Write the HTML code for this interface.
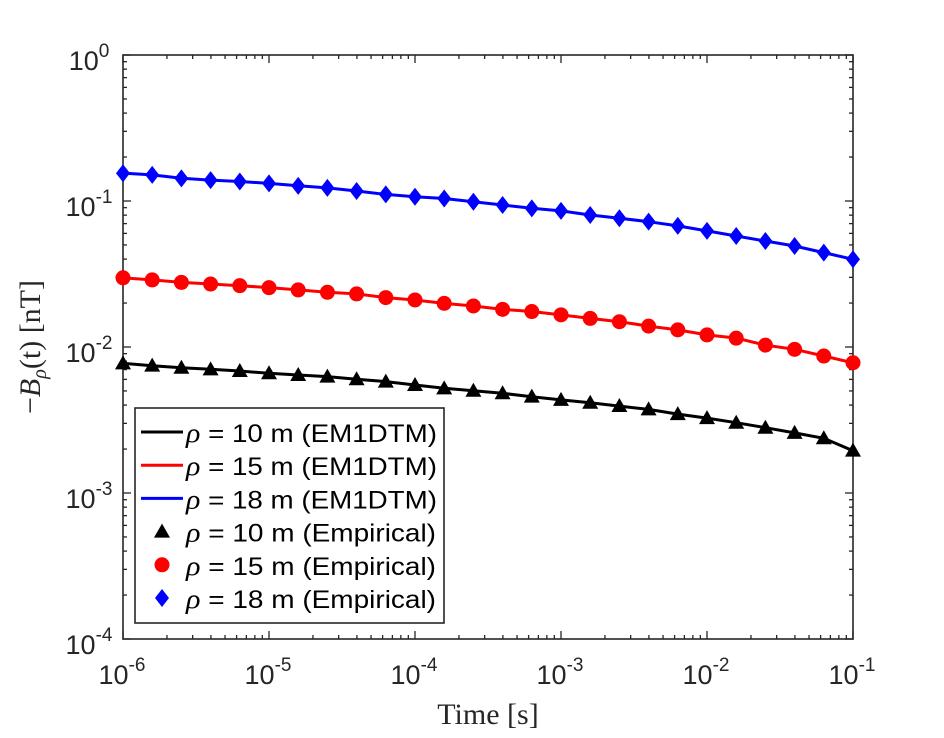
<!DOCTYPE html>
<html><head><meta charset="utf-8"><style>
html,body{margin:0;padding:0;background:#fff;}
svg{display:block;font-family:"Liberation Sans",sans-serif;}
</style></head><body>
<svg id="chart" width="944" height="738" xmlns="http://www.w3.org/2000/svg"></svg>
<script>
const timeExponents = [-6,-5.8,-5.6,-5.4,-5.2,-5,-4.8,-4.6,-4.4,-4.2,-4,-3.8,-3.6,-3.4,-3.2,-3,-2.8,-2.6,-2.4,-2.2,-2,-1.8,-1.6,-1.4,-1.2,-1];
const rho18 = [0.155,0.151,0.143,0.139,0.136,0.132,0.127,0.123,0.117,0.111,0.107,0.104,0.0989,0.0939,0.0891,0.0855,0.0802,0.0762,0.0722,0.0675,0.0624,0.0576,0.0532,0.0492,0.0443,0.0399];
const rho15 = [0.0298,0.0288,0.0277,0.0270,0.0263,0.0255,0.0246,0.0237,0.0231,0.0218,0.0210,0.0199,0.0191,0.0181,0.0175,0.0166,0.0157,0.0149,0.0139,0.0131,0.0121,0.0115,0.0103,0.00964,0.00867,0.00780];
const rho10 = [0.00773,0.00745,0.00721,0.00703,0.00685,0.00661,0.00643,0.00627,0.00601,0.00579,0.00549,0.00521,0.00502,0.00482,0.00457,0.00434,0.00415,0.00394,0.00374,0.00347,0.00326,0.00303,0.00280,0.00258,0.00237,0.00195];
const xTickExps = [-6,-5,-4,-3,-2,-1];
const yTickExps = [0,-1,-2,-3,-4];
const legendLabels = ["= 10 m (EM1DTM)","= 15 m (EM1DTM)","= 18 m (EM1DTM)","= 10 m (Empirical)","= 15 m (Empirical)","= 18 m (Empirical)"];

const NS="http://www.w3.org/2000/svg";
const svg=document.getElementById('chart');
const L=123,R=853,T=55,B=639;
const xMin=-6,xMax=-1,yMin=-4,yMax=0;
function xs(logt){return L+(logt-xMin)/(xMax-xMin)*(R-L);}
function ys(v){return B-(Math.log10(v)-yMin)/(yMax-yMin)*(B-T);}
function mk(tag,attrs,parent){const e=document.createElementNS(NS,tag);for(const k in attrs)e.setAttribute(k,attrs[k]);(parent||svg).appendChild(e);return e;}

const axes=mk('g',{});


for(let d=xMin;d<=xMax;d++){
  const x=xs(d);
  mk('line',{x1:x,y1:B,x2:x,y2:B-8,stroke:'#262626','stroke-width':1.3},axes);
  mk('line',{x1:x,y1:T,x2:x,y2:T+8,stroke:'#262626','stroke-width':1.3},axes);
  if(d<xMax)for(let m=2;m<=9;m++){const xm=xs(d+Math.log10(m));
    mk('line',{x1:xm,y1:B,x2:xm,y2:B-4,stroke:'#262626','stroke-width':1.3},axes);
    mk('line',{x1:xm,y1:T,x2:xm,y2:T+4,stroke:'#262626','stroke-width':1.3},axes);}
}
for(let d=yMin;d<=yMax;d++){
  const y=ys(Math.pow(10,d));
  mk('line',{x1:L,y1:y,x2:L+8,y2:y,stroke:'#262626','stroke-width':1.3},axes);
  mk('line',{x1:R,y1:y,x2:R-8,y2:y,stroke:'#262626','stroke-width':1.3},axes);
  if(d<yMax)for(let m=2;m<=9;m++){const ym=ys(m*Math.pow(10,d));
    mk('line',{x1:L,y1:ym,x2:L+4,y2:ym,stroke:'#262626','stroke-width':1.3},axes);
    mk('line',{x1:R,y1:ym,x2:R-4,y2:ym,stroke:'#262626','stroke-width':1.3},axes);}
}
const frame=mk('rect',{x:L,y:T,width:R-L,height:B-T,fill:'none',stroke:'#262626','stroke-width':1.6},axes);


xTickExps.forEach(e=>{
  const t=mk('text',{x:xs(e)-1,y:B+45,'text-anchor':'middle','font-size':27,fill:'#262626'},axes);
  
  
  t.innerHTML='10<tspan dy="-13" font-size="19">'+(e<0?'-':'')+Math.abs(e)+'</tspan>';
});
yTickExps.forEach(e=>{
  const t=mk('text',{x:L-34,y:ys(Math.pow(10,e))+15,'text-anchor':'middle','font-size':27,fill:'#262626'},axes);
  
  
  t.innerHTML='10<tspan dy="-13" font-size="19">'+(e<0?'-':'')+Math.abs(e)+'</tspan>';
});
const xl=mk('text',{x:488,y:724,'text-anchor':'middle','font-size':30,fill:'#262626','font-family':'Liberation Serif,serif'});


xl.textContent='Time [s]';
const yl=mk('text',{x:0,y:0,'text-anchor':'middle','font-size':30,fill:'#262626','font-family':'Liberation Serif,serif',transform:'translate(40,347) rotate(-90)'});


yl.innerHTML='\u2212<tspan font-style="italic">B</tspan><tspan font-style="italic" font-size="20" dy="6">\u03C1</tspan><tspan dy="-6">(t) [nT]</tspan>';

const series=[{d:rho10,c:'#000',m:'tri',n:'rho-10'},{d:rho15,c:'#f00',m:'circ',n:'rho-15'},{d:rho18,c:'#00f',m:'diam',n:'rho-18'}];
function marker(type,x,y,c,g){
  if(type==='tri')return mk('polygon',{points:`${x},${y-8} ${x-8},${y+6} ${x+8},${y+6}`,fill:c},g);
  if(type==='circ')return mk('circle',{cx:x,cy:y,r:7.5,fill:c},g);
  return mk('polygon',{points:`${x},${y-9} ${x+7},${y} ${x},${y+9} ${x-7},${y}`,fill:c},g);
}
series.forEach(s=>{
  const g=mk('g',{});
  
  
  const pts=s.d.map((v,i)=>xs(timeExponents[i]).toFixed(1)+','+ys(v).toFixed(1)).join(' ');
  const pl=mk('polyline',{points:pts,fill:'none',stroke:s.c,'stroke-width':3},g);
  
  
  s.d.forEach((v,i)=>{const m=marker(s.m,xs(timeExponents[i]),ys(v),s.c,g);
    
    });
});
const lg=mk('g',{});


mk('rect',{x:135,y:408,width:309,height:215,fill:'#fff',stroke:'#262626','stroke-width':1.6},lg);
const cols=['#000','#f00','#00f'];const mks=['tri','circ','diam'];
legendLabels.forEach((lab,i)=>{
  const y=432+i*33.2;
  const e=mk('g',{},lg);
  
  
  const c=cols[i%3];
  if(i<3)mk('line',{x1:141,y1:y,x2:183,y2:y,stroke:c,'stroke-width':3},e);
  else marker(mks[i%3],162,y,c,e);
  const t=mk('text',{x:186,y:y+10,'font-size':25,fill:'#000',textLength:i<3?251:250,lengthAdjust:'spacingAndGlyphs'},e);
  t.innerHTML='<tspan font-family="Liberation Serif,serif" font-style="italic" font-size="27">\u03C1</tspan> '+lab;
});
</script>
</body></html>
